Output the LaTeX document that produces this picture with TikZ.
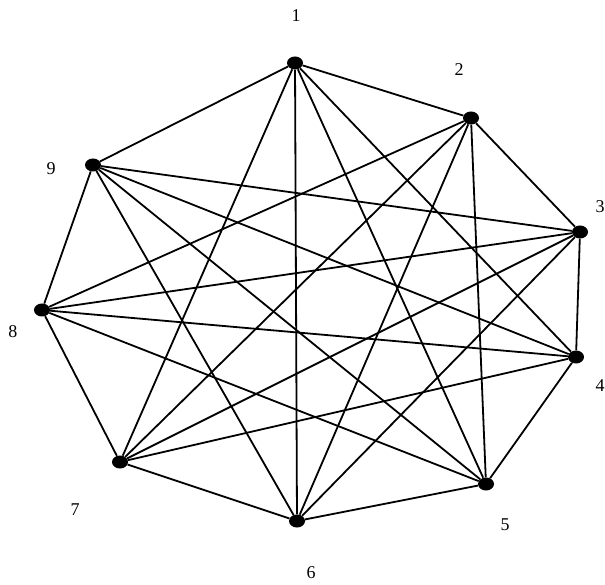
\documentclass[tikz,border=0pt]{standalone}
\usepackage{fontspec}
\setmainfont{Liberation Serif}
\usetikzlibrary{shapes.geometric}
\begin{document}
\begin{tikzpicture}[x=1pt,y=-1pt,
  vdot/.style={ellipse,fill=black,inner sep=0pt,minimum width=16pt,minimum height=13pt},
  vlab/.style={font=\fontsize{18}{19}\selectfont,inner sep=0pt},
  edge/.style={line width=1.8pt,black}]
\useasboundingbox (0,0) rectangle (605,585);
\node[vdot] (n1) at (295,63) {};
\node[vdot] (n2) at (471,118) {};
\node[vdot] (n3) at (580,232) {};
\node[vdot] (n4) at (576,357) {};
\node[vdot] (n5) at (486,484) {};
\node[vdot] (n6) at (297,521) {};
\node[vdot] (n7) at (120,462) {};
\node[vdot] (n8) at (42,310) {};
\node[vdot] (n9) at (93,165) {};
\node[vlab] (l1) at (296,16) {1};
\node[vlab] (l2) at (459,70) {2};
\node[vlab] (l3) at (600,207) {3};
\node[vlab] (l4) at (600,386) {4};
\node[vlab] (l5) at (505,525) {5};
\node[vlab] (l6) at (311,573) {6};
\node[vlab] (l7) at (75,510) {7};
\node[vlab] (l8) at (13,332) {8};
\node[vlab] (l9) at (51,169) {9};
\foreach \a/\b in {1/2,2/3,3/4,4/5,5/6,6/7,7/8,8/9,9/1,
                   1/4,2/5,3/6,4/7,5/8,6/9,7/1,8/2,9/3,
                   1/5,2/6,3/7,4/8,5/9,6/1,7/2,8/3,9/4}
  \draw[edge] (n\a) -- (n\b);
\end{tikzpicture}
\end{document}
